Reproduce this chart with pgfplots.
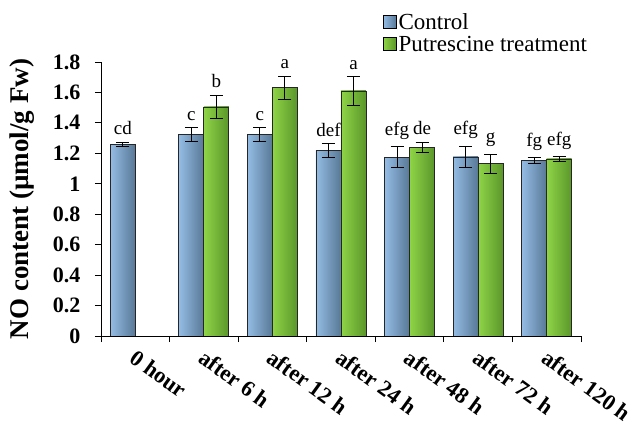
\documentclass[border=0pt]{standalone}
\usepackage{pgfplots}
\usepackage{pgfplotstable}
\usepackage{fontspec}
\setmainfont{Liberation Serif}
\pgfplotsset{compat=1.18}
\definecolor{blueL}{HTML}{94BCE4}
\definecolor{blueD}{HTML}{587896}
\definecolor{greenL}{HTML}{8FD447}
\definecolor{greenD}{HTML}{5A962A}
\pgfplotstableread{
x c ce p pe cl pl
0 1.260 0.012 0.000 0.000 cd {}
1 1.323 0.044 1.505 0.075 c b
2 1.323 0.045 1.632 0.075 c a
3 1.218 0.044 1.610 0.093 def a
4 1.174 0.068 1.240 0.033 efg de
5 1.176 0.072 1.132 0.061 efg g
6 1.152 0.018 1.163 0.015 fg efg
}\datatable
\begin{document}
\begin{tikzpicture}
\useasboundingbox (-101pt,-90pt) rectangle (532pt,336pt);
\begin{axis}[
  at={(0pt,0pt)}, anchor=south west,
  scale only axis,
  width=480pt, height=274pt,
  ybar=0pt, bar width=25pt,
  xmin=-0.5, xmax=6.5,
  ymin=0, ymax=1.8,
  ytick={0,0.2,...,1.8},
  axis lines*=left,
  axis line style={-, line width=0.8pt},
  tick style={black, line width=0.8pt},
  tick align=outside,
  major tick length=6pt,
  xtick={-0.5,0.5,...,6.5},
  xticklabels={},
  extra x ticks={0,1,2,3,4,5,6},
  extra x tick labels={0 hour,after 6 h,after 12 h,after 24 h,after 48 h,after 72 h,after 120 h},
  extra x tick style={major tick length=0pt},
  xticklabel style={rotate=-36, anchor=north west, font=\fontsize{22.5}{26}\selectfont\bfseries, yshift=-5pt, xshift=6pt},
  /pgf/number format/assume math mode=true,
  yticklabel style={font=\fontsize{22}{26}\selectfont\bfseries, xshift=-11pt},
  ylabel={NO content (µmol/g Fw)},
  ylabel style={font=\fontsize{27}{30}\selectfont\bfseries, yshift=12pt},
  legend style={draw=none, fill=none, at={(rel axis cs:0.587,1.185)}, anchor=north west,
    font=\fontsize{23}{26}\selectfont, row sep=1pt, inner sep=0pt, /tikz/every even column/.append style={column sep=2pt}},
  legend cell align=left,
  legend image code/.code={\path[#1, draw=black, line width=0.6pt] (0pt,-6pt) rectangle (13pt,7pt);},
  error bars/error bar style={black, line width=0.9pt},
  error bars/error mark options={rotate=90, mark size=6.5pt, line width=0.9pt, black},
  point meta=explicit symbolic,
  nodes near coords={\pgfplotspointmeta},
  nodes near coords style={font=\fontsize{19}{22}\selectfont, anchor=south, inner sep=0pt, yshift=7pt, black},
]
\addlegendimage{left color=blueL, right color=blueD}
\addlegendentry{Control}
\addlegendimage{left color=greenL, right color=greenD}
\addlegendentry{Putrescine treatment}
\pgfplotsinvokeforeach{0,...,6}{
\addplot[forget plot, bar shift=-12.5pt, restrict x to domain=#1:#1,
  draw=black!85, line width=0.8pt, left color=blueL, right color=blueD,
  error bars/.cd, y dir=both, y explicit,
  /pgfplots/visualization depends on={\thisrow{ce} \as \myerr},
  /pgfplots/nodes near coords style={shift={(axis direction cs:0,\myerr)}}]
  table[x=x, y=c, y error=ce, meta=cl] {\datatable};
}
\pgfplotsinvokeforeach{1,...,6}{
\addplot[forget plot, bar shift=12.5pt, restrict x to domain=#1:#1,
  draw=black!85, line width=0.8pt, left color=greenL, right color=greenD,
  error bars/.cd, y dir=both, y explicit,
  /pgfplots/visualization depends on={\thisrow{pe} \as \myerr},
  /pgfplots/nodes near coords style={shift={(axis direction cs:0,\myerr)}}]
  table[x=x, y=p, y error=pe, meta=pl] {\datatable};
}
\addplot[forget plot, bar shift=12.5pt, restrict x to domain=0:0,
  draw=none, fill=none, nodes near coords={},
  error bars/.cd, y dir=both, y explicit]
  table[x=x, y=p, y error=pe, meta=pl] {\datatable};
\end{axis}
\end{tikzpicture}
\end{document}
